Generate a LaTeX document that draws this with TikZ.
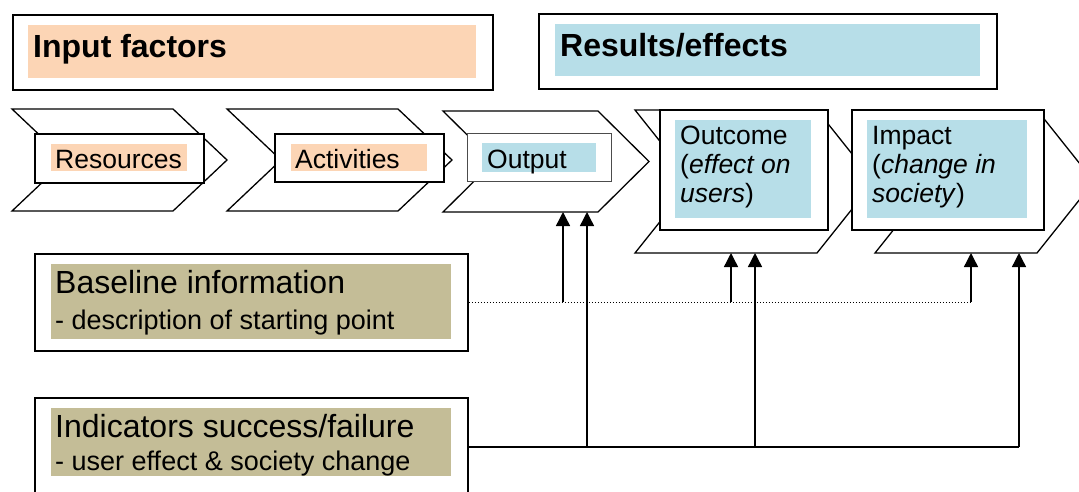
\documentclass[tikz,border=0pt]{standalone}
\usepackage{fontspec}
\setmainfont{Liberation Sans}
\usetikzlibrary{arrows.meta, positioning, calc}
\definecolor{inpeach}{RGB}{252,213,181}
\definecolor{resblue}{RGB}{183,222,232}
\definecolor{basetan}{RGB}{196,189,151}
\tikzset{
  % White frame around a coloured label (parameterized by line width)
  frame/.style={
    rectangle, draw=black, fill=white, line width=#1, inner sep=0pt, anchor=north west
  },
  frame/.default=1.8pt,
  % Coloured label area (parameterized by colour)
  labelbox/.style={rectangle, fill=#1, inner sep=0pt, anchor=north west},
  chevron/.style={draw=black, fill=white, line width=1.3pt, line join=miter},
  headtext/.style={font=\fontsize{32}{34}\selectfont\bfseries, inner sep=0pt, anchor=base west},
  steptext/.style={font=\fontsize{26.5}{29}\selectfont, inner sep=0pt, align=left},
  infotext/.style={font=\fontsize{32}{34}\selectfont, inner sep=0pt, anchor=base west},
  subtext/.style={font=\fontsize{26.5}{29}\selectfont, inner sep=0pt, anchor=base west},
  uparrow/.style={-{Triangle[length=14pt, width=14pt]}, line width=1.4pt},
  feedline/.style={line width=1.4pt},
  dotline/.style={line width=1.2pt, dash pattern=on 1.2pt off 1.8pt}
}

\begin{document}
\begin{tikzpicture}[x=1pt, y=-1pt]
  \clip (0,0) rectangle (1079,491);

  % Headers
  \node[frame=2.2pt, minimum width=480pt, minimum height=75pt] (inframe) at (12,14) {};
  \node[labelbox=inpeach, minimum width=448pt, minimum height=53pt] (infill) at (28,25) {};
  \node[headtext] (intext) at (33,57) {Input factors};
  \node[frame=2.2pt, minimum width=458pt, minimum height=75pt] (resframe) at (538,13) {};
  \node[labelbox=resblue, minimum width=425pt, minimum height=52pt] (resfill) at (555,24) {};
  \node[headtext] (restext) at (560,56) {Results/effects};

  % Chevrons
  \draw[chevron] (12,109) -- (173,109) -- (227,160) -- (173,211) -- (12,211) -- (66,160) -- cycle;
  \draw[chevron] (227,109) -- (398,109) -- (452,160) -- (398,211) -- (227,211) -- (281,160) -- cycle;
  \draw[chevron] (443,111) -- (598,111) -- (649,161.5) -- (598,212) -- (443,212) -- (494,161.5) -- cycle;
  \draw[chevron] (635,110) -- (817,110) -- (874,181.5) -- (817,253) -- (635,253) -- (692,181.5) -- cycle;
  \draw[chevron] (875,110) -- (1037,110) -- (1094,181.5) -- (1037,253) -- (875,253) -- (932,181.5) -- cycle;

  % Step boxes
  \node[frame, minimum width=169pt, minimum height=49pt] (resbox) at (34,133) {};
  \node[labelbox=inpeach, minimum width=136pt, minimum height=27pt] (resfill2) at (51,144) {};
  \node[subtext] (restxt) at (55,168) {Resources};
  \node[frame, minimum width=169pt, minimum height=48pt] (actbox) at (274,133) {};
  \node[labelbox=inpeach, minimum width=136pt, minimum height=27pt] (actfill) at (291,144) {};
  \node[subtext] (acttxt) at (295,168) {Activities};
  \node[frame=1pt, draw=black!70, minimum width=144pt, minimum height=48pt] (outbox) at (467,133) {};
  \node[labelbox=resblue, minimum width=114pt, minimum height=29pt] (outfill) at (482,143) {};
  \node[subtext] (outtxt) at (487,168) {Output};
  \node[frame, minimum width=168pt, minimum height=120pt] (ocbox) at (659,109) {};
  \node[labelbox=resblue, minimum width=136pt, minimum height=98pt] (ocfill) at (675,120) {};
  \node[steptext, anchor=north west] (octxt) at (680,126) {Outcome\\(\textit{effect on}\\\textit{users})};
  \node[frame, minimum width=192pt, minimum height=120pt] (imbox) at (851,109) {};
  \node[labelbox=resblue, minimum width=160pt, minimum height=98pt] (imfill) at (867,120) {};
  \node[steptext, anchor=north west] (imtxt) at (872,126) {Impact\\(\textit{change in}\\\textit{society})};

  % Information boxes
  \node[frame, minimum width=433pt, minimum height=97pt] (base) at (34,253) {};
  \node[labelbox=basetan, minimum width=400pt, minimum height=75pt] (basefill) at (51,264) {};
  \node[infotext] (basetitle) at (55,293) {Baseline information};
  \node[subtext, font=\fontsize{27}{29}\selectfont] (basesub) at (55,329) {- description of starting point};
  \node[frame, minimum width=433pt, minimum height=98pt] (ind) at (34,397) {};
  \node[labelbox=basetan, minimum width=400pt, minimum height=68pt] (indfill) at (51,408) {};
  \node[infotext] (indtitle) at (55,437) {Indicators success/failure};
  \node[subtext, font=\fontsize{27}{29}\selectfont] (indsub) at (55,470) {- user effect \& society change};

  % Arrow targets on the chevrons
  \coordinate (outA) at (563,212);
  \coordinate (outB) at (587,212);
  \coordinate (ocA) at (731,253);
  \coordinate (ocB) at (755,253);
  \coordinate (imA) at (971,253);
  \coordinate (imB) at (1019,253);

  % Baseline connectors
  \draw[dotline] (base.east) -- (base.east -| imA);
  \draw[uparrow] (base.east -| outA) -- (outA);
  \draw[uparrow] (base.east -| ocA) -- (ocA);
  \draw[uparrow] (base.east -| imA) -- (imA);

  % Indicator connectors
  \draw[feedline] (ind.east) -- (ind.east -| imB);
  \draw[uparrow] (ind.east -| outB) -- (outB);
  \draw[uparrow] (ind.east -| ocB) -- (ocB);
  \draw[uparrow] (ind.east -| imB) -- (imB);
\end{tikzpicture}
\end{document}
